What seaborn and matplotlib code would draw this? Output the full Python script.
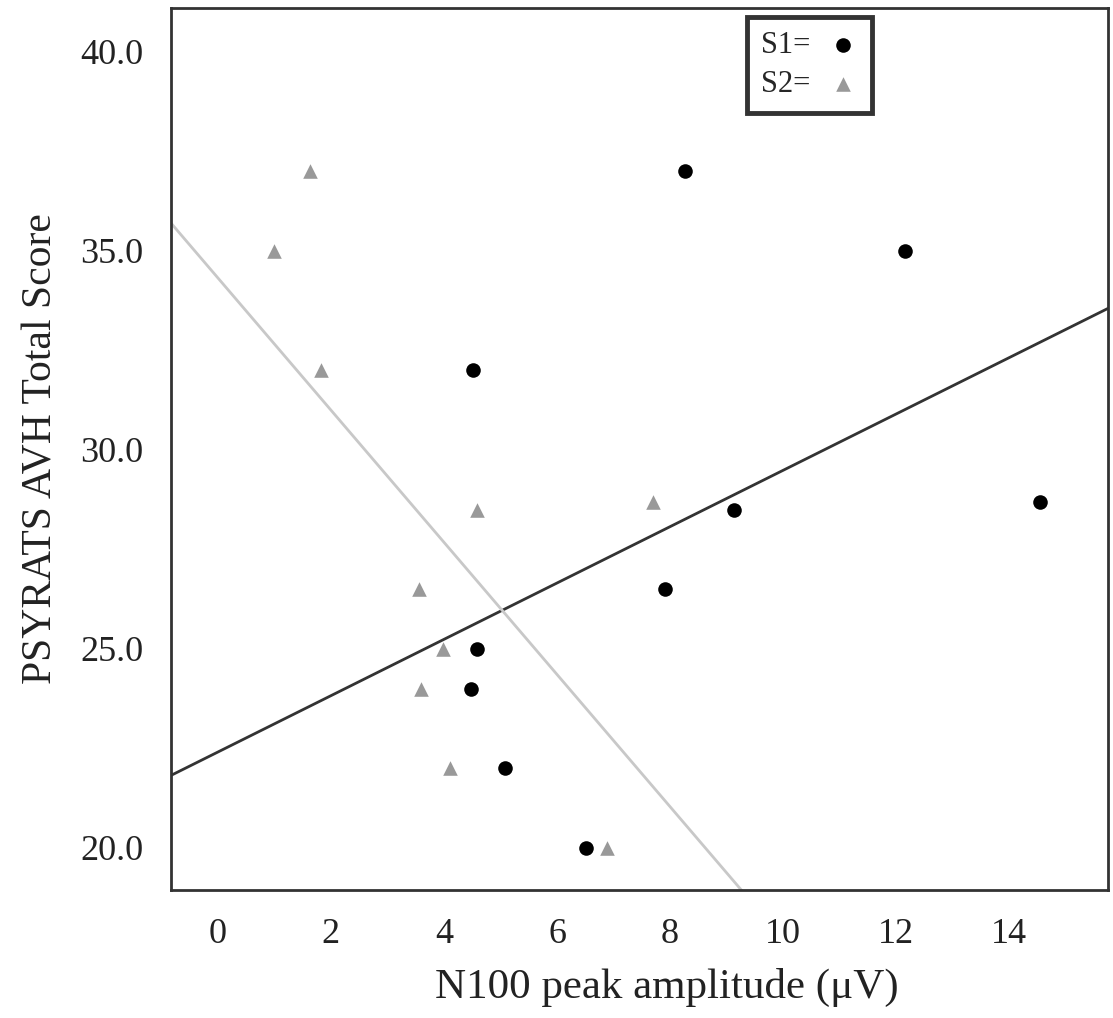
import numpy as np
import pandas as pd
import matplotlib
matplotlib.use("Agg")
import matplotlib.pyplot as plt
import seaborn as sns

sns.set_style("white")
plt.rcParams["font.family"] = ["Liberation Serif", "DejaVu Serif"]

# values
s1_amp = [4.51, 4.58, 4.48, 5.08, 6.51, 7.91, 8.27, 12.16, 9.13, 14.55]
s1_score = [32.0, 25.0, 24.0, 22.0, 20.0, 26.5, 37.0, 35.0, 28.5, 28.7]
s2_amp = [1.63, 0.99, 1.82, 4.58, 3.56, 3.98, 3.59, 4.11, 6.88, 7.70]
s2_score = [37.0, 35.0, 32.0, 28.5, 26.5, 25.0, 24.0, 22.0, 20.0, 28.7]

x_ticks = [0, 2, 4, 6, 8, 10, 12, 14]
y_ticks = [20, 25, 30, 35, 40]

df = pd.DataFrame({
    "amp": s1_amp + s2_amp,
    "score": s1_score + s2_score,
    "session": ["S1"] * len(s1_amp) + ["S2"] * len(s2_amp),
})

fig = plt.figure(figsize=(11.13, 10.18), dpi=100)
ax = fig.add_axes([0.1536, 0.1257, 0.842, 0.8664])
xlim = (-0.83, 15.75)
ylim = (18.94, 41.1)
ax.set_xlim(*xlim)
ax.set_ylim(*ylim)

styles = {
    "S1": dict(marker="o", color="black", line="#333333"),
    "S2": dict(marker="^", color="#999999", line="#c8c8c8"),
}
for name, st in styles.items():
    sub = df[df["session"] == name]
    sns.regplot(data=sub, x="amp", y="score", ax=ax, ci=None, truncate=False,
                marker=st["marker"], label=f"{name}=",
                scatter_kws={"color": st["color"], "s": 110, "linewidths": 0,
                             "alpha": 1, "zorder": 3},
                line_kws={"color": st["line"], "linewidth": 2, "zorder": 2})

ax.set_xlim(*xlim)
ax.set_ylim(*ylim)
ax.set_xticks(x_ticks)
ax.set_yticks(y_ticks)
ax.set_yticklabels([f"{v:.1f}" for v in y_ticks])
ax.tick_params(axis="both", direction="out", length=6, width=1.5, colors="#333333",
               labelsize=26, labelcolor="#222222", pad=14)
for sp in ax.spines.values():
    sp.set_color("#333333")
    sp.set_linewidth(2)

ax.set_xlabel("N100 peak amplitude (μV)", fontsize=31, color="#222222")
ax.xaxis.set_label_coords(0.529, -0.088)
ax.set_ylabel("PSYRATS AVH Total Score", fontsize=30, color="#222222", labelpad=14)

leg = ax.legend(loc="upper left", bbox_to_anchor=(0.615, 0.99), markerfirst=False,
                fontsize=22, frameon=True, fancybox=False, borderpad=0.45,
                handlelength=1.0, handletextpad=0.55, labelspacing=0.35,
                borderaxespad=0)
leg.get_frame().set_edgecolor("black")
leg.get_frame().set_linewidth(3.5)

fig.savefig("out.png", dpi=100)
